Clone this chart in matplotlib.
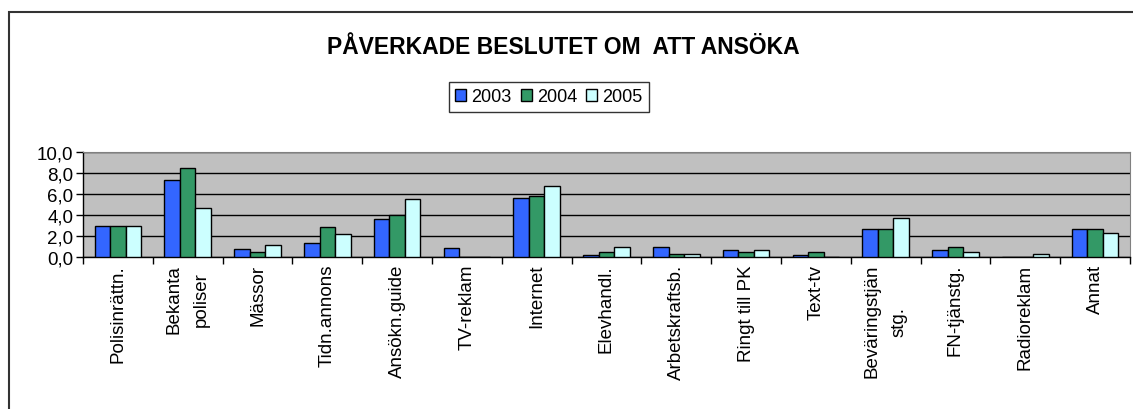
import numpy as np
import matplotlib.pyplot as plt
from matplotlib.patches import Rectangle

plt.rcParams['font.family'] = ['Liberation Sans', 'DejaVu Sans']

# data
categories = ['Polisinrättn.', 'Bekanta\npoliser', 'Mässor', 'Tidn.annons', 'Ansökn.guide',
              'TV-reklam', 'Internet', 'Elevhandl.', 'Arbetskraftsb.', 'Ringt till PK',
              'Text-tv', 'Beväringstjän\nstg.', 'FN-tjänstg.', 'Radioreklam', 'Annat']
y2003 = [3.0, 7.3, 0.8, 1.3, 3.6, 0.9, 5.6, 0.2, 1.0, 0.7, 0.2, 2.7, 0.7, 0.0, 2.7]
y2004 = [3.0, 8.5, 0.5, 2.9, 4.0, 0.0, 5.8, 0.5, 0.3, 0.5, 0.5, 2.7, 1.0, 0.0, 2.7]
y2005 = [3.0, 4.7, 1.1, 2.2, 5.5, 0.0, 6.8, 1.0, 0.3, 0.7, 0.0, 3.7, 0.5, 0.3, 2.3]
years = ['2003', '2004', '2005']
colors = ['#3366FF', '#339966', '#CCFFFF']

fig = plt.figure(figsize=(11.33, 4.10), dpi=100)
# outer chart border (right/bottom cut off in the original)
fig.patches.append(Rectangle((9 / 1133, -0.1), 1.2, 1 - 13 / 410 + 0.1, transform=fig.transFigure,
                             fill=False, edgecolor='#333333', linewidth=1.5))

ax = fig.add_axes([83 / 1133, 1 - 258 / 410, (1130 - 83) / 1133, 105 / 410])
ax.set_facecolor('#C0C0C0')

x = np.arange(len(categories))
w = 0.222
for i, (vals, lab, c) in enumerate(zip([y2003, y2004, y2005], years, colors)):
    ax.bar(x + (i - 1) * w, vals, w, color=c, edgecolor='black', linewidth=1, label=lab, zorder=3)

ax.set_xlim(-0.5, len(categories) - 0.5)
ax.set_ylim(0, 10)
ax.set_yticks(np.arange(0, 10.1, 2))
ax.set_yticklabels([f'{v:.1f}'.replace('.', ',') for v in np.arange(0, 10.1, 2)], fontsize=13.5)
ax.yaxis.grid(True, color='black', linewidth=1, zorder=1)
ax.set_axisbelow(True)

ax.set_xticks(x)
ax.set_xticklabels(categories, rotation=90, fontsize=13.5, va='top', ha='center',
                   multialignment='center', linespacing=1.75)
ax.tick_params(axis='x', length=0, pad=5)
ax.set_xticks(np.arange(-0.5, len(categories), 1), minor=True)
ax.tick_params(axis='x', which='minor', length=5, width=1, color='black', direction='out')
ax.tick_params(axis='y', length=5, width=1, direction='out', pad=2)

for s in ['top', 'right']:
    ax.spines[s].set_color('#808080')
for s in ['left', 'bottom']:
    ax.spines[s].set_color('black')
    ax.spines[s].set_linewidth(1)

fig.text(0.497, 1 - 47 / 410, 'PÅVERKADE BESLUTET OM  ATT ANSÖKA', ha='center', va='center',
         fontsize=16.5, fontweight='bold')

leg = fig.legend(loc='center', bbox_to_anchor=(549 / 1133, 1 - 98 / 410), ncol=3, fontsize=13,
                 frameon=True, fancybox=False, edgecolor='black', handlelength=0.6, handleheight=0.6,
                 handletextpad=0.3, columnspacing=0.5, borderpad=0.35)
leg.get_frame().set_linewidth(1)

fig.savefig('out.png', dpi=100)
